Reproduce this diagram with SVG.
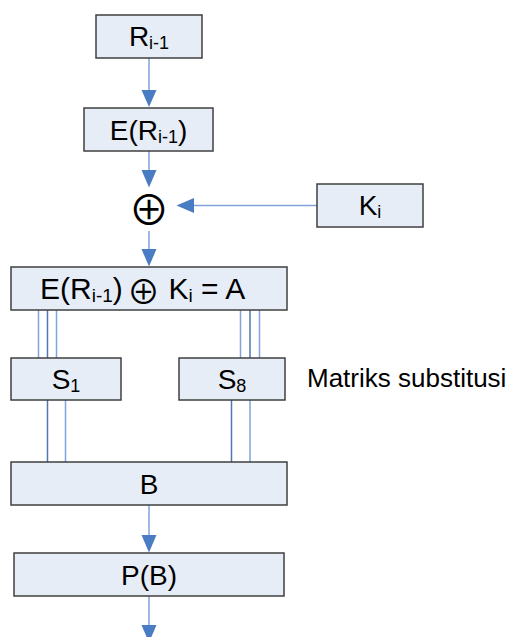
<svg xmlns="http://www.w3.org/2000/svg" width="507" height="637" viewBox="0 0 507 637">
<style>
.box{fill:#E7EDF7;stroke:#3f3f3f;stroke-width:1.5}
.t{font-family:"Liberation Sans",Arial,sans-serif;font-size:28px;fill:#000;text-anchor:middle}
.ta{font-family:"Liberation Sans",Arial,sans-serif;font-size:30px;fill:#000}
.lab{font-family:"Liberation Sans",Arial,sans-serif;font-size:26px;fill:#000}
.ln{stroke:#7FA3DA;stroke-width:1.5;fill:none}
.ld{stroke:#4F77B5;stroke-width:1.5;fill:none}
.ah{fill:#4A7CC4}
.sym{font-family:"Noto Sans CJK JP","DejaVu Sans",sans-serif;fill:#000;text-anchor:middle}
</style>
<rect width="507" height="637" fill="#fff"/>
<g id="connectors">
<line class="ln" x1="149" y1="58" x2="149" y2="92"/>
<polygon class="ah" points="141.5,90 156.5,90 149,107"/>
<line class="ln" x1="149" y1="151" x2="149" y2="172"/>
<polygon class="ah" points="141.5,170 156.5,170 149,187.5"/>
<line class="ln" x1="317" y1="205.5" x2="192" y2="205.5"/>
<polygon class="ah" points="194,198 194,213 176.5,205.5"/>
<line class="ln" x1="149" y1="231" x2="149" y2="251"/>
<polygon class="ah" points="141.5,249 156.5,249 149,266.5"/>
<line class="ln" x1="38.5" y1="310" x2="38.5" y2="358"/>
<line class="ld" x1="47.5" y1="310" x2="47.5" y2="358"/>
<line class="ln" x1="56.5" y1="310" x2="56.5" y2="358"/>
<line class="ln" x1="240.5" y1="310" x2="240.5" y2="358"/>
<line class="ld" x1="250" y1="310" x2="250" y2="358"/>
<line class="ln" x1="259.5" y1="310" x2="259.5" y2="358"/>
<line class="ld" x1="47.5" y1="400" x2="47.5" y2="462"/>
<line class="ln" x1="65.5" y1="400" x2="65.5" y2="462"/>
<line class="ld" x1="231.5" y1="400" x2="231.5" y2="462"/>
<line class="ln" x1="250" y1="400" x2="250" y2="462"/>
<line class="ln" x1="149" y1="505" x2="149" y2="537"/>
<polygon class="ah" points="141.5,535 156.5,535 149,552.5"/>
<line class="ln" x1="149" y1="596" x2="149" y2="627"/>
<polygon class="ah" points="141.5,625 156.5,625 149,642.5"/>
</g>
<g id="node-r">
<rect class="box" x="96" y="15" width="106" height="43"/>
<text class="t" x="149" y="46">R<tspan font-size="18" dy="3">i-1</tspan></text>
</g>
<g id="node-e">
<rect class="box" x="84" y="108" width="129" height="43"/>
<text class="t" x="148.5" y="140">E(R<tspan font-size="18" dy="3">i-1</tspan><tspan dy="-3">)</tspan></text>
</g>
<g id="node-xor">
<text class="sym" x="149" y="224.5" font-size="41">⊕</text>
</g>
<g id="node-k">
<rect class="box" x="317" y="184" width="106" height="43"/>
<text class="t" x="370" y="215">K<tspan font-size="18" dy="3">i</tspan></text>
</g>
<g id="node-a">
<rect class="box" x="11" y="267" width="276" height="43"/>
<text class="ta" x="40" y="298.5">E(R<tspan font-size="19" dy="3">i-1</tspan><tspan dy="-3">)</tspan></text>
<text class="sym" x="143.5" y="303.5" font-size="33">⊕</text>
<text class="ta" x="168.5" y="298.5">K<tspan font-size="19" dy="3">i</tspan><tspan dy="-3"> = A</tspan></text>
</g>
<g id="node-s1">
<rect class="box" x="11" y="358" width="110" height="42"/>
<text class="t" x="66" y="389">S<tspan font-size="18" dy="3">1</tspan></text>
</g>
<g id="node-s8">
<rect class="box" x="179" y="358" width="106" height="42"/>
<text class="t" x="232" y="389">S<tspan font-size="18" dy="3">8</tspan></text>
</g>
<g id="label-matriks">
<text class="lab" x="307" y="387">Matriks substitusi</text>
</g>
<g id="node-b">
<rect class="box" x="11" y="462" width="276" height="43"/>
<text class="t" x="149" y="493.5">B</text>
</g>
<g id="node-pb">
<rect class="box" x="14" y="553" width="270" height="43"/>
<text class="t" x="149" y="584.5">P(B)</text>
</g>
</svg>
